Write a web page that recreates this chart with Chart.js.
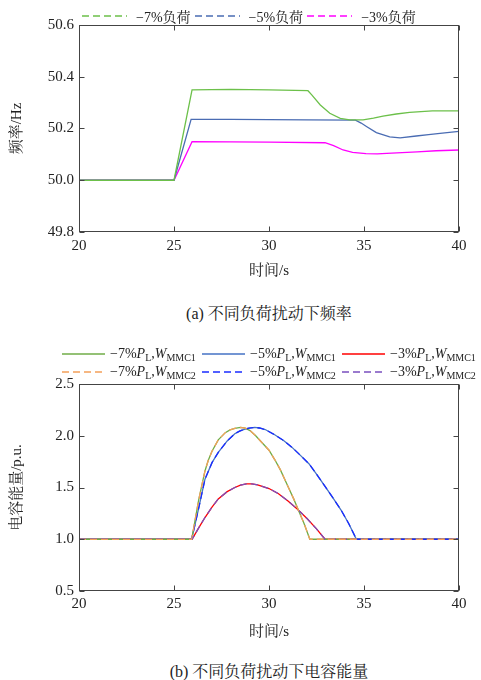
<!DOCTYPE html>
<html>
<head>
<meta charset="utf-8">
<script src="https://cdn.jsdelivr.net/npm/chart.js@4.4.1/dist/chart.umd.min.js"></script>
<style>
  body { margin: 0; background: #fff; width: 481px; height: 680px; position: relative; overflow: hidden;
         font-family: "Liberation Serif", "Noto Serif CJK SC", "Noto Sans CJK SC", serif; color: #222; }
  .box { position: absolute; left: 0; width: 481px; }
  #boxA { top: 0; height: 285px; }
  #boxB { top: 340px; height: 310px; }
  .cap { position: absolute; left: 79px; width: 380px; text-align: center; font-size: 16px; }
  .legend { position: absolute; font-size: 14px; white-space: nowrap; }
  .legend .item { display: flex; align-items: center; }
  #legA { left: 82px; top: 6px; display: flex; }
  #legA .item { margin-right: 4px; }
  #legA svg { margin-right: 9px; }
  #legB { left: 62px; top: 345px; display: grid; grid-template-columns: 140px 140px 140px; line-height: 18px; }
  #legB svg { margin-right: 5px; }
  sub { font-size: 10px; vertical-align: -3px; line-height: 0; }
</style>
</head>
<body>
<div class="box" id="boxA"><canvas id="chartA"></canvas></div>
<div class="legend" id="legA"></div>
<div class="cap" style="top:301px">(a) 不同负荷扰动下频率</div>

<div class="box" id="boxB"><canvas id="chartB"></canvas></div>
<div class="legend" id="legB"></div>
<div class="cap" style="top:659px">(b) 不同负荷扰动下电容能量</div>

<script>
// ---- (a) frequency under load steps ----
const loads = ['−7%', '−5%', '−3%']

const tF7 = [20, 25, 25.95, 28, 30, 32.05, 32.25, 32.7, 33.2, 33.75, 34.25, 34.95, 35.5, 36, 36.7, 37.4, 38, 38.6, 39.3, 40]
const fF7 = [50.0, 50.0, 50.349, 50.351, 50.349, 50.346, 50.33, 50.291, 50.259, 50.239, 50.233, 50.233, 50.24, 50.248, 50.256, 50.262, 50.265, 50.268, 50.268, 50.268]

const tF5 = [20, 25, 25.9, 28, 30, 32, 34.55, 34.85, 35.15, 35.65, 36.35, 36.9, 37.75, 38.4, 39, 40]
const fF5 = [50.0, 50.0, 50.235, 50.235, 50.234, 50.233, 50.232, 50.221, 50.207, 50.184, 50.168, 50.164, 50.171, 50.176, 50.181, 50.189]

const tF3 = [20, 25, 25.95, 28, 30, 32.95, 33.4, 33.9, 34.4, 35.1, 35.7, 36.2, 37, 37.8, 38.8, 40]
const fF3 = [50.0, 50.0, 50.149, 50.148, 50.147, 50.145, 50.134, 50.117, 50.108, 50.103, 50.102, 50.104, 50.107, 50.11, 50.114, 50.117]

// ---- (b) capacitor energy ----
const tW7 = [20, 25.93, 26.3, 26.63, 26.8, 27.0, 27.33, 27.7, 27.95, 28.2, 28.5, 28.75, 29.0, 29.3, 29.6, 30.0, 30.3, 30.6, 31.0, 31.3, 31.55, 31.85, 32.15, 40]
const vW7 = [1.0, 1.0, 1.38, 1.66, 1.76, 1.85, 1.96, 2.03, 2.056, 2.072, 2.08, 2.073, 2.05, 2.0, 1.94, 1.86, 1.77, 1.67, 1.51, 1.39, 1.28, 1.15, 1.0, 1.0]

const tW5 = [20, 25.93, 26.3, 26.63, 27.0, 27.33, 27.8, 28.2, 28.45, 28.7, 28.95, 29.25, 29.5, 29.8, 30.3, 30.8, 31.2, 31.6, 32.1, 32.5, 32.95, 33.4, 33.8, 34.2, 34.6, 40]
const vW5 = [1.0, 1.0, 1.3, 1.58, 1.74, 1.84, 1.95, 2.02, 2.045, 2.062, 2.074, 2.08, 2.075, 2.06, 2.01, 1.95, 1.89, 1.82, 1.73, 1.63, 1.51, 1.39, 1.28, 1.15, 1.0, 1.0]

const tW3 = [20, 25.95, 26.3, 26.63, 27.0, 27.33, 27.8, 28.2, 28.5, 28.8, 29.1, 29.4, 30.0, 30.5, 31.0, 31.5, 32.0, 32.5, 32.95, 40]
const vW3 = [1.0, 1.0, 1.11, 1.21, 1.31, 1.39, 1.46, 1.5, 1.523, 1.535, 1.535, 1.525, 1.49, 1.44, 1.37, 1.29, 1.2, 1.1, 1.0, 1.0]

// MMC2 curves sit on top of the MMC1 curves in the figure
const vW7b = vW7, vW5b = vW5, vW3b = vW3

const xTicks = [20, 25, 30, 35, 40]

const FONT = '"Liberation Serif", "Noto Serif CJK SC", "Noto Sans CJK SC", serif'

function pts(t, v) {
  return t.map((x, i) => ({ x, y: v[i] }))
}

// box frame with inward tick marks on all four sides
const frameTicks = {
  id: 'frameTicks',
  afterDraw(chart) {
    const { ctx, chartArea: a, scales: { x, y } } = chart
    const L = Math.round(a.left) + 0.5, R = Math.round(a.right) - 0.5
    const T = Math.round(a.top) + 0.5, B = Math.round(a.bottom) - 0.5
    ctx.save()
    ctx.strokeStyle = '#444'
    ctx.lineWidth = 1
    ctx.strokeRect(L, T, R - L, B - T)
    ctx.beginPath()
    x.ticks.forEach(tk => {
      const px = Math.round(x.getPixelForValue(tk.value)) + 0.5
      ctx.moveTo(px, B); ctx.lineTo(px, B - 5)
      ctx.moveTo(px, T); ctx.lineTo(px, T + 5)
    })
    y.ticks.forEach(tk => {
      const py = Math.round(y.getPixelForValue(tk.value)) + 0.5
      ctx.moveTo(L, py); ctx.lineTo(L + 5, py)
      ctx.moveTo(R, py); ctx.lineTo(R - 5, py)
    })
    ctx.stroke()
    ctx.restore()
  }
}

function makeOptions(cfg) {
  return {
    responsive: true,
    maintainAspectRatio: false,
    animation: false,
    layout: { padding: { top: cfg.padTop, right: 22, bottom: 0, left: 0 } },
    plugins: { legend: { display: false }, tooltip: { enabled: false } },
    elements: { point: { radius: 0 }, line: { borderWidth: 1.3, tension: 0 } },
    scales: {
      x: {
        type: 'linear', min: 20, max: 40,
        afterBuildTicks: s => { s.ticks = xTicks.map(v => ({ value: v })) },
        afterFit: s => { s.height = cfg.xHeight },
        grid: { display: false, drawTicks: false },
        border: { display: false },
        ticks: { color: '#222', font: { family: FONT, size: 15 }, padding: cfg.xPad, maxRotation: 0 },
        title: { display: true, text: '时间/s', color: '#222', font: { family: FONT, size: 15 }, padding: { top: 0, bottom: cfg.xTitlePad } }
      },
      y: {
        min: cfg.yMin, max: cfg.yMax,
        afterFit: s => { s.width = 79 },
        grid: { display: false, drawTicks: false },
        border: { display: false },
        ticks: { stepSize: cfg.yStep, color: '#222', font: { family: FONT, size: 15 }, padding: 5,
                 callback: v => Number(v).toFixed(1) },
        title: { display: true, text: cfg.yTitle, color: '#222', font: { family: FONT, size: 15 }, padding: { top: 8, bottom: 0 } }
      }
    }
  }
}

function sample(color, dash, w) {
  const d = dash ? ` stroke-dasharray="${dash}"` : ''
  return `<svg width="${w}" height="8"><line x1="0" y1="4" x2="${w}" y2="4" stroke="${color}" stroke-width="1.3"${d}/></svg>`
}

// ---- chart (a) ----
const chartA = new Chart(document.getElementById('chartA'), {
  type: 'line',
  data: {
    datasets: [
      { label: loads[0] + '负荷', data: pts(tF7, fF7), borderColor: '#6cc04a' },
      { label: loads[1] + '负荷', data: pts(tF5, fF5), borderColor: '#4a6cb3' },
      { label: loads[2] + '负荷', data: pts(tF3, fF3), borderColor: '#ff00ff' }
    ]
  },
  options: makeOptions({ yMin: 49.8, yMax: 50.6, yStep: 0.2, yTitle: '频率/Hz', padTop: 25, xHeight: 53, xPad: 5, xTitlePad: 5 }),
  plugins: [frameTicks]
})

document.getElementById('legA').innerHTML = chartA.data.datasets.map(ds =>
  `<div class="item">${sample(ds.borderColor, '7,4', 45)}<span>${ds.label}</span></div>`
).join('')

// ---- chart (b) ----
const mmc1Colors = ['#70ad47', '#4472c4', '#ff0000']
const mmc2Colors = ['#f4a05a', '#1a2cff', '#7a4fbf']
const tW = [tW7, tW5, tW3]
const vW1 = [vW7, vW5, vW3]
const vW2 = [vW7b, vW5b, vW3b]

const dsB = []
loads.forEach((ld, i) => {
  dsB.push({ label: ld + 'PL,WMMC1', data: pts(tW[i], vW1[i]), borderColor: mmc1Colors[i], order: 1, mmc: 'MMC1', load: ld })
})
loads.forEach((ld, i) => {
  dsB.push({ label: ld + 'PL,WMMC2', data: pts(tW[i], vW2[i]), borderColor: mmc2Colors[i], borderDash: [7, 4], order: 0, mmc: 'MMC2', load: ld })
})

const chartB = new Chart(document.getElementById('chartB'), {
  type: 'line',
  data: { datasets: dsB },
  options: makeOptions({ yMin: 0.5, yMax: 2.5, yStep: 0.5, yTitle: '电容能量/p.u.', padTop: 44, xHeight: 59, xPad: 4, xTitlePad: 9 }),
  plugins: [frameTicks]
})

document.getElementById('legB').innerHTML = chartB.data.datasets.map(ds =>
  `<div class="item">${sample(ds.borderColor, ds.borderDash ? '7,4' : null, 43)}<span>${ds.load}<i>P</i><sub>L</sub>,<i>W</i><sub>${ds.mmc}</sub></span></div>`
).join('')
</script>
</body>
</html>
